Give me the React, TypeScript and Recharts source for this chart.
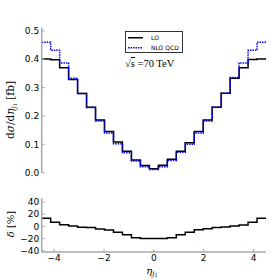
import React from 'react';
import { ComposedChart, Line, XAxis, YAxis, Label, Legend } from 'recharts';

const binEdges = [-4.5, -4.14, -3.78, -3.42, -3.06, -2.7, -2.34, -1.98, -1.62, -1.26, -0.9, -0.54, -0.18, 0.18, 0.54, 0.9, 1.26, 1.62, 1.98, 2.34, 2.7, 3.06, 3.42, 3.78, 4.14, 4.5];
const loValues = [0.401, 0.398, 0.370, 0.329, 0.279, 0.231, 0.186, 0.145, 0.108, 0.076, 0.045, 0.025, 0.014, 0.026, 0.047, 0.076, 0.106, 0.145, 0.186, 0.231, 0.280, 0.333, 0.370, 0.399, 0.401];
const nloValues = [0.460, 0.432, 0.387, 0.333, 0.279, 0.230, 0.182, 0.140, 0.102, 0.070, 0.041, 0.021, 0.011, 0.021, 0.043, 0.072, 0.100, 0.140, 0.182, 0.231, 0.280, 0.336, 0.387, 0.432, 0.460];
const deltaValues = [13.3, 6.7, 2.8, 0.7, -1.5, -2, -4.3, -6, -9.7, -13.6, -18.5, -20, -19.8, -20, -18.5, -13.6, -9.7, -5.4, -3.8, -2, -1, 0.7, 2.3, 6.7, 13.3];
const xTicks = [-4, -2, 0, 2, 4];
const yTicksTop = [0, 0.1, 0.2, 0.3, 0.4, 0.5];
const yTicksBottom = [-40, -20, 0, 20, 40];

const pick = (arr: number[], i: number) => arr[Math.min(i, arr.length - 1)];
const topData = binEdges.map((x, i) => ({ x, lo: pick(loValues, i), nlo: pick(nloValues, i) }));
const bottomData = binEdges.map((x, i) => ({ x, delta: pick(deltaValues, i) }));

const FRAME = '#a8a8a8';
const tickFont = { fontFamily: 'DejaVu Sans', fontSize: 9, fill: '#000' };
const minus = (v: number) => (v < 0 ? '\u2212' + Math.abs(v) : String(v));

const axisLine = { stroke: FRAME, strokeWidth: 1.5 };
const tickLine = { stroke: FRAME, strokeWidth: 1 };

const TopYLabel = () => (
  <text x={14} y={110} transform="rotate(-90 14 110)" textAnchor="middle" fontFamily="DejaVu Serif" fontSize={10.5} fill="#000">
    d<tspan fontStyle="italic">σ</tspan>/d<tspan fontStyle="italic">η</tspan>
    <tspan fontSize={7} dy={2} fontStyle="italic">j</tspan>
    <tspan fontSize={5} dy={1}>1</tspan>
    <tspan dy={-3}> [fb]</tspan>
  </text>
);

const BottomYLabel = () => (
  <text x={14} y={224} transform="rotate(-90 14 224)" textAnchor="middle" fontFamily="DejaVu Serif" fontSize={10} fill="#000">
    <tspan fontStyle="italic">δ</tspan> [%]
  </text>
);

const XLabel = () => (
  <text x={152} y={274} textAnchor="middle" fontFamily="DejaVu Serif" fontSize={10} fill="#000">
    <tspan fontStyle="italic">η</tspan>
    <tspan fontSize={7} dy={2} fontStyle="italic">j</tspan>
    <tspan fontSize={5} dy={1}>1</tspan>
  </text>
);

const LegendBox = () => (
  <div style={{ border: '1px solid #333', background: '#fff', width: 58, height: 22, boxSizing: 'border-box', padding: '1px 2px', fontFamily: 'DejaVu Sans', fontSize: 6, lineHeight: '9.5px', whiteSpace: 'nowrap' }}>
    <div style={{ display: 'flex', alignItems: 'center' }}>
      <svg width={15} height={9.5} style={{ flex: 'none' }}><line x1={0} y1={4.75} x2={15} y2={4.75} stroke="#000" strokeWidth={1.5} /></svg>
      <span style={{ marginLeft: 8 }}>LO</span>
    </div>
    <div style={{ display: 'flex', alignItems: 'center' }}>
      <svg width={15} height={9.5} style={{ flex: 'none' }}><line x1={0} y1={4.75} x2={15} y2={4.75} stroke="#0000ff" strokeWidth={1.5} strokeDasharray="1.5 1" /></svg>
      <span style={{ marginLeft: 8 }}>NLO QCD</span>
    </div>
  </div>
);

export default function App() {
  return (
    <div style={{ position: 'absolute', left: 0, top: 0, width: 280, height: 280, background: '#fff' }}>
      <div style={{ position: 'absolute', left: 0, top: 0 }}>
        <ComposedChart width={280} height={280} data={topData} margin={{ top: 27.5, right: 14, left: 0, bottom: 85.3 }}>
          <XAxis dataKey="x" type="number" domain={[-4.5, 4.5]} ticks={xTicks} height={0} tick={false} axisLine={axisLine} tickLine={tickLine} tickSize={-3} />
          <XAxis xAxisId="top" orientation="top" dataKey="x" type="number" domain={[-4.5, 4.5]} ticks={xTicks} height={0} tick={false} axisLine={axisLine} tickLine={tickLine} tickSize={-3} />
          <YAxis type="number" domain={[0, 0.512]} ticks={yTicksTop} interval={0} width={41.7} allowDataOverflow axisLine={axisLine} tickLine={tickLine} tickSize={-3} tickMargin={5.5} tick={tickFont} tickFormatter={(v: number) => v.toFixed(1)}>
            <Label content={() => <TopYLabel />} />
          </YAxis>
          <YAxis yAxisId="right" orientation="right" type="number" domain={[0, 0.512]} ticks={yTicksTop} interval={0} width={0} allowDataOverflow axisLine={axisLine} tickLine={tickLine} tickSize={-3} tick={false} />
          <Line dataKey="lo" type="stepAfter" stroke="#000" strokeWidth={1.5} dot={false} isAnimationActive={false} />
          <Line dataKey="nlo" type="stepAfter" stroke="#0000ff" strokeWidth={1.5} strokeDasharray="1.5 1" dot={false} isAnimationActive={false} />
          <Legend content={() => <LegendBox />} wrapperStyle={{ left: 125, top: 31, width: 58, height: 22 }} />
        </ComposedChart>
      </div>
      <div style={{ position: 'absolute', left: 125, top: 58, fontFamily: 'Liberation Serif', fontSize: 10.5, whiteSpace: 'nowrap', color: '#000' }}>
        √<span style={{ borderTop: '0.8px solid #000' }}>s</span> =70 TeV
      </div>
      <div style={{ position: 'absolute', left: 0, top: 0 }}>
        <ComposedChart width={280} height={280} data={bottomData} margin={{ top: 198.3, right: 14, left: 0, bottom: 0 }}>
          <XAxis dataKey="x" type="number" domain={[-4.5, 4.5]} ticks={xTicks} interval={0} height={28} axisLine={axisLine} tickLine={tickLine} tickSize={-3} tickMargin={5.5} tick={tickFont} tickFormatter={minus}>
            <Label content={() => <XLabel />} />
          </XAxis>
          <XAxis xAxisId="top" orientation="top" dataKey="x" type="number" domain={[-4.5, 4.5]} ticks={xTicks} interval={0} height={0} tick={false} axisLine={axisLine} tickLine={tickLine} tickSize={-3} />
          <YAxis type="number" domain={[-42, 46]} ticks={yTicksBottom} interval={0} width={41.7} allowDataOverflow axisLine={axisLine} tickLine={tickLine} tickSize={-3} tickMargin={5.5} tick={tickFont} tickFormatter={minus}>
            <Label content={() => <BottomYLabel />} />
          </YAxis>
          <YAxis yAxisId="right" orientation="right" type="number" domain={[-42, 46]} ticks={yTicksBottom} interval={0} width={0} allowDataOverflow axisLine={axisLine} tickLine={tickLine} tickSize={-3} tick={false} />
          <Line dataKey="delta" type="stepAfter" stroke="#000" strokeWidth={1.5} dot={false} isAnimationActive={false} />
        </ComposedChart>
      </div>
    </div>
  );
}
